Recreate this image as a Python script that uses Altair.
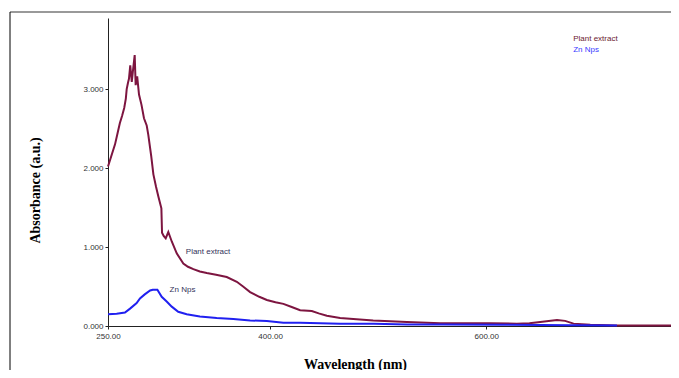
import altair as alt
import pandas as pd

# ---- data ----
plant_wl = [250, 253, 256.5, 259, 261, 263, 265, 266.5, 267.3, 268.5, 269.4, 270.6, 272, 273,
            274.7, 275.6, 277, 278.7, 281, 283.3, 285.8, 287.3, 290, 292, 294.5, 296.6, 299.4,
            300, 301.5, 303.4, 305.8, 309, 313.6, 319.7, 324, 329, 335, 341.4, 350, 359.9,
            369.2, 375, 381.5, 390, 397, 405, 412.3, 420, 427.8, 438.6, 445, 452.5, 464.8,
            480, 495.4, 526.6, 557.4, 590, 603.7, 628.4, 640, 650, 665.5, 673, 680.8, 696.3,
            721, 771]
plant_abs = [2.02, 2.15, 2.30, 2.45, 2.57, 2.66, 2.76, 2.88, 3.00, 3.08, 3.13, 3.30, 3.09, 3.22,
             3.43, 3.05, 3.16, 2.93, 2.80, 2.63, 2.54, 2.42, 2.15, 1.92, 1.76, 1.64, 1.49,
             1.18, 1.14, 1.11, 1.19, 1.07, 0.92, 0.79, 0.75, 0.72, 0.69, 0.67, 0.65, 0.62,
             0.56, 0.50, 0.43, 0.37, 0.33, 0.30, 0.28, 0.24, 0.20, 0.19, 0.16, 0.13, 0.10,
             0.085, 0.07, 0.05, 0.034, 0.034, 0.034, 0.03, 0.035, 0.05, 0.076, 0.065, 0.03, 0.015,
             0.006, 0.005]

zn_wl = [250, 258, 265.7, 270.4, 276.5, 279.6, 284, 289, 291.4, 295.7, 299.7, 304.3, 309,
         315, 322.8, 335, 350.6, 366, 381.5, 397, 412.3, 427.8, 464.8, 496, 527, 560, 615,
         680, 721]
zn_abs = [0.148, 0.155, 0.17, 0.22, 0.29, 0.35, 0.40, 0.45, 0.46, 0.46, 0.37, 0.31, 0.245,
          0.18, 0.148, 0.12, 0.10, 0.09, 0.07, 0.063, 0.04, 0.042, 0.03, 0.03, 0.02, 0.018, 0.015,
          0.01, 0.005]

series_names = ["Plant extract", "Zn Nps"]
series_colors = ["#7d1540", "#2020f0"]
x_ticks = [250, 400, 600]
y_ticks = [0, 1, 2, 3]

# inline and legend annotations (data coordinates)
label_text = ["Plant extract", "Zn Nps"]
label_wl = [322, 307]
label_abs = [0.94, 0.46]
legend_text = ["Plant extract", "Zn Nps"]
legend_wl = [680.5, 680.5]
legend_abs = [3.63, 3.50]
legend_colors = ["#6b1a30", "#3a3aff"]

df = pd.concat([
    pd.DataFrame({"wl": plant_wl, "abs": plant_abs, "series": series_names[0]}),
    pd.DataFrame({"wl": zn_wl, "abs": zn_abs, "series": series_names[1]}),
])
labels_df = pd.DataFrame({"wl": label_wl, "abs": label_abs, "t": label_text})
legend_df = pd.DataFrame({"wl": legend_wl, "abs": legend_abs, "t": legend_text, "c": legend_colors})

xs = alt.Scale(domain=[250, 771], nice=False, zero=False)
ys = alt.Scale(domain=[0, 3.9], nice=False, zero=False)

x_axis = alt.Axis(values=x_ticks, format=".2f", title="Wavelength (nm)", grid=False,
                  labelFont="Liberation Sans", labelFontSize=8, labelColor="#333",
                  labelFlush=False, labelOverlap=False,
                  tickSize=3, tickColor="#222", domainColor="#222", domainWidth=1,
                  titleFont="Liberation Serif", titleFontSize=14, titleFontWeight="bold",
                  titleColor="#000", titleX=247, titleY=31, labelPadding=3)
y_axis = alt.Axis(values=y_ticks, format=".3f", title="Absorbance (a.u.)", grid=False,
                  labelFont="Liberation Sans", labelFontSize=8, labelColor="#333",
                  labelFlush=False, labelOverlap=False,
                  tickSize=3, tickColor="#222", domainColor="#222", domainWidth=1,
                  titleFont="Liberation Serif", titleFontSize=14, titleFontWeight="bold",
                  titleColor="#000", titleX=-66, titleY=172, labelPadding=2)

lines = alt.Chart(df).mark_line(strokeWidth=2).encode(
    x=alt.X("wl:Q", scale=xs, axis=x_axis),
    y=alt.Y("abs:Q", scale=ys, axis=y_axis),
    color=alt.Color("series:N", scale=alt.Scale(domain=series_names, range=series_colors),
                    legend=None),
)

inline = alt.Chart(labels_df).mark_text(align="left", baseline="middle", font="Liberation Sans",
                                        fontSize=8, color="#33335a").encode(
    x=alt.X("wl:Q", scale=xs), y=alt.Y("abs:Q", scale=ys), text="t:N")

legend = alt.Chart(legend_df).mark_text(align="left", baseline="middle", font="Liberation Sans",
                                        fontSize=8).encode(
    x=alt.X("wl:Q", scale=xs), y=alt.Y("abs:Q", scale=ys), text="t:N",
    color=alt.Color("c:N", scale=None))

one = pd.DataFrame({"a": [0]})
frame_top = alt.Chart(one).mark_rule(color="#777", strokeWidth=1.5, clip=False).encode(
    x=alt.value(-98), x2=alt.value(580), y=alt.value(-6))
frame_left = alt.Chart(one).mark_rule(color="#000", strokeWidth=1, clip=False).encode(
    x=alt.value(-98), y=alt.value(-6), y2=alt.value(400))

chart = alt.layer(frame_top, frame_left, lines, inline, legend).properties(
    width=563, height=308,
    padding={"left": 100, "top": 10, "right": 0, "bottom": 44},
    autosize=alt.AutoSizeParams(type="none"),
    background="white",
).configure_view(stroke=None)

chart.save("out.html", embed_options={"renderer": "svg", "actions": False})
